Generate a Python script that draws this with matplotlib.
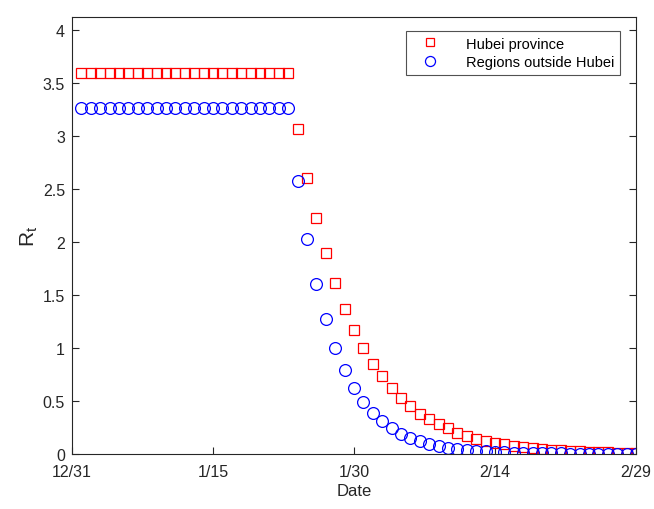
import matplotlib as mpl
mpl.use('Agg')
import matplotlib.pyplot as plt
#
#--- data: day index counted from 12/31
#
days_flat   = list(range(1, 24))
days_decay  = list(range(24, 61))

hubei_flat  = [3.59] * 23
outside_flat = [3.26] * 23

hubei_decay = [3.06, 2.60, 2.22, 1.89, 1.61, 1.37, 1.17, 1.00, 0.85, 0.73,
               0.62, 0.53, 0.45, 0.38, 0.33, 0.28, 0.24, 0.20, 0.17, 0.145,
               0.125, 0.105, 0.09, 0.077, 0.065, 0.056, 0.048, 0.041, 0.035, 0.030,
               0.025, 0.022, 0.018, 0.016, 0.013, 0.011, 0.010]
outside_decay = [2.57, 2.03, 1.60, 1.27, 1.00, 0.79, 0.62, 0.49, 0.39, 0.31,
                 0.24, 0.19, 0.15, 0.12, 0.095, 0.075, 0.059, 0.047, 0.037, 0.029,
                 0.023, 0.018, 0.014, 0.011, 0.009, 0.007, 0.006, 0.005, 0.004, 0.003,
                 0.002, 0.002, 0.002, 0.001, 0.001, 0.001, 0.001]

tick_days   = [0, 15, 30, 45, 60]
tick_labels = ['12/31', '1/15', '1/30', '2/14', '2/29']
ytick_vals  = [0, 0.5, 1, 1.5, 2, 2.5, 3, 3.5, 4]
ytick_labels = ['0', '0.5', '1', '1.5', '2', '2.5', '3', '3.5', '4']

days    = days_flat + days_decay
hubei   = hubei_flat + hubei_decay
outside = outside_flat + outside_decay
#
#--- plot settings
#
mpl.rcParams['font.family'] = ['Liberation Sans', 'DejaVu Sans']
mpl.rcParams['font.size'] = 11

fig = plt.figure(figsize=(6.54, 5.10), dpi=100)
ax = fig.add_axes([0.110, 0.108, 0.8625, 0.857])

ax.plot(days, hubei, linestyle='none', marker='s', markersize=6.5,
        markerfacecolor='none', markeredgecolor='#ff0000', markeredgewidth=0.9,
        label='Hubei province')
ax.plot(days, outside, linestyle='none', marker='o', markersize=8.5,
        markerfacecolor='none', markeredgecolor='#0000ff', markeredgewidth=0.9,
        label='Regions outside Hubei')

ax.set_xlim(0, 60)
ax.set_ylim(0, 4.12)
ax.set_xticks(tick_days)
ax.set_xticklabels(tick_labels)
ax.set_yticks(ytick_vals)
ax.set_yticklabels(ytick_labels)

ax.tick_params(direction='in', length=5, width=0.8, colors='#262626',
               labelsize=11.5, top=False, right=True, pad=5)
ax.tick_params(axis='x', pad=7)
for sp in ax.spines.values():
    sp.set_color('#262626')
    sp.set_linewidth(0.8)

ax.set_xlabel('Date', fontsize=12, color='#262626', labelpad=3)
ax.set_ylabel('R$_\\mathregular{t}$', fontsize=15, color='#262626', labelpad=2)

leg = ax.legend(loc='upper right', bbox_to_anchor=(0.985, 0.985), fontsize=10.5,
                frameon=True, fancybox=False, edgecolor='#262626', markerscale=0.85,
                handlelength=2.5, handletextpad=1.2, borderpad=0.4, labelspacing=0.3)
leg.get_frame().set_linewidth(0.8)

fig.savefig('out.png', dpi=100)
